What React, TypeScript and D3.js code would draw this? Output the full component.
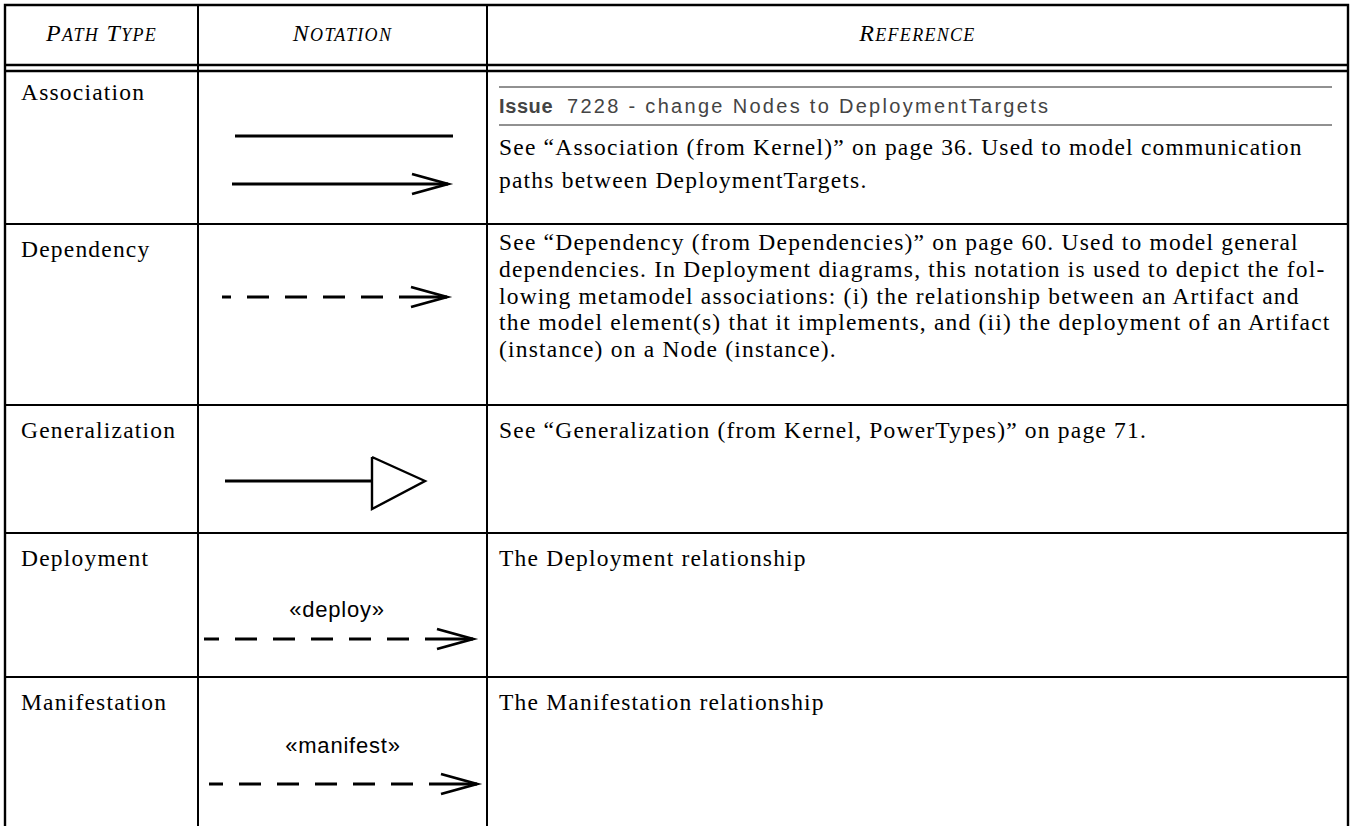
import React, { useRef, useEffect } from 'react';
import * as d3 from 'd3';

// table content
const headers = ['Path Type', 'Notation', 'Reference'];
const pathTypes = ['Association', 'Dependency', 'Generalization', 'Deployment', 'Manifestation'];
const notationKinds = ['association', 'dependency', 'generalization', 'deployment', 'manifestation'];
const stereotypes = ['', '', '', '«deploy»', '«manifest»'];
const issueLabel = 'Issue';
const issueText = '7228 - change Nodes to DeploymentTargets';
const associationRef = [
  'See “Association (from Kernel)” on page 36. Used to model communication',
  'paths between DeploymentTargets.',
];
const dependencyRef = [
  'See “Dependency (from Dependencies)” on page 60. Used to model general',
  'dependencies. In Deployment diagrams, this notation is used to depict the fol-',
  'lowing metamodel associations: (i) the relationship between an Artifact and',
  'the model element(s) that it implements, and (ii) the deployment of an Artifact',
  '(instance) on a Node (instance).',
];
const generalizationRef = ['See “Generalization (from Kernel, PowerTypes)” on page 71.'];
const deploymentRef = ['The Deployment relationship'];
const manifestationRef = ['The Manifestation relationship'];
const referenceLines = [associationRef, dependencyRef, generalizationRef, deploymentRef, manifestationRef];

// layout
const W = 1353;
const H = 826;
const colEdges = [5, 198, 487, 1348];
const rowEdges = [71, 224, 405, 533, 677, 840];
const SERIF = '"Liberation Serif", "Times New Roman", serif';
const SANS = '"Liberation Sans", Arial, sans-serif';
const BODY_SIZE = 23.5;
const BODY_SPACING = 1.2;

const App = () => {
  const ref = useRef(null);

  useEffect(() => {
    const svg = d3.select(ref.current);
    svg.selectAll('*').remove();

    const rowTop = d3.scaleOrdinal().domain(pathTypes).range(rowEdges.slice(0, -1));
    const colMid = (i) => (colEdges[i] + colEdges[i + 1]) / 2;

    const grid = svg.append('g').attr('stroke', '#000').attr('fill', 'none');
    // outer border (open at the bottom, table continues on next page)
    grid
      .append('path')
      .attr('d', `M${colEdges[0]},${H + 5}V5H${colEdges[3]}V${H + 5}`)
      .attr('stroke-width', 2.4);
    // header double rule
    [65, 71].forEach((y) =>
      grid.append('line').attr('x1', colEdges[0]).attr('x2', colEdges[3]).attr('y1', y).attr('y2', y).attr('stroke-width', 2.4)
    );
    // column rules
    [colEdges[1], colEdges[2]].forEach((x) =>
      grid.append('line').attr('x1', x).attr('x2', x).attr('y1', 5).attr('y2', H + 5).attr('stroke-width', 2)
    );
    // row rules
    rowEdges.slice(1, -1).forEach((y) =>
      grid.append('line').attr('x1', colEdges[0]).attr('x2', colEdges[3]).attr('y1', y).attr('y2', y).attr('stroke-width', 2)
    );

    // headers in italic small caps
    headers.forEach((h, i) => {
      const t = svg
        .append('text')
        .attr('x', colMid(i))
        .attr('y', 41)
        .attr('text-anchor', 'middle')
        .attr('font-family', SERIF)
        .attr('font-style', 'italic')
        .attr('letter-spacing', 1.3)
        .attr('fill', '#000');
      h.split(' ').forEach((word, wi) => {
        t.append('tspan').attr('font-size', 24).text((wi > 0 ? ' ' : '') + word[0]);
        t.append('tspan').attr('font-size', 18).text(word.slice(1).toUpperCase());
      });
    });

    // path type labels
    svg
      .selectAll('text.label')
      .data(pathTypes)
      .enter()
      .append('text')
      .attr('class', 'label')
      .attr('x', colEdges[0] + 16)
      .attr('y', (d, i) => rowTop(d) + (i === 0 ? 29 : 33))
      .attr('font-family', SERIF)
      .attr('font-size', BODY_SIZE)
      .attr('letter-spacing', BODY_SPACING)
      .text((d) => d);

    // reference texts
    const refX = colEdges[2] + 12;
    const firstBaseline = [155, 250, 438, 566, 710];
    const lineStep = [33, 26.75, 27, 27, 27];
    referenceLines.forEach((lines, i) => {
      lines.forEach((line, li) => {
        svg
          .append('text')
          .attr('x', refX)
          .attr('y', firstBaseline[i] + li * lineStep[i])
          .attr('font-family', SERIF)
          .attr('font-size', BODY_SIZE)
          .attr('letter-spacing', BODY_SPACING)
          .text(line);
      });
    });

    // issue box in the association row
    const issueRight = 1332;
    [87, 125].forEach((y) =>
      svg.append('line').attr('x1', refX).attr('x2', issueRight).attr('y1', y).attr('y2', y).attr('stroke', '#222').attr('stroke-width', 1)
    );
    svg
      .append('text')
      .attr('x', refX)
      .attr('y', 113)
      .attr('font-family', SANS)
      .attr('font-size', 20)
      .attr('font-weight', 'bold')
      .attr('fill', '#444')
      .attr('letter-spacing', 0.6)
      .text(issueLabel);
    svg
      .append('text')
      .attr('x', refX + 68)
      .attr('y', 113)
      .attr('font-family', SANS)
      .attr('font-size', 20)
      .attr('fill', '#444')
      .attr('letter-spacing', 2.3)
      .text(issueText);

    // notation glyphs
    const line = d3.line();
    const notes = svg.append('g').attr('stroke', '#000').attr('fill', 'none').attr('stroke-width', 2.8);
    const openHead = (tip, y) =>
      notes.append('path').attr('d', line([[tip - 36, y - 10], [tip, y], [tip - 36, y + 10]]));
    const dashed = (x0, tip, y) => {
      // solid tail next to the head, then regular dashes back to the start
      notes.append('path').attr('d', line([[tip - 48, y], [tip, y]]));
      notes
        .append('path')
        .attr('d', line([[tip - 64, y], [x0, y]]))
        .attr('stroke-dasharray', '22 16');
      openHead(tip, y);
    };

    notationKinds.forEach((kind, i) => {
      const top = rowTop(pathTypes[i]);
      if (kind === 'association') {
        notes.append('path').attr('d', line([[235, top + 65], [453, top + 65]]));
        notes.append('path').attr('d', line([[232, top + 113], [448, top + 113]]));
        openHead(448, top + 113);
      } else if (kind === 'dependency') {
        dashed(222, 447, top + 73);
      } else if (kind === 'generalization') {
        const y = top + 76;
        notes.append('path').attr('d', line([[225, y], [372, y]]));
        notes
          .append('path')
          .attr('d', line([[372, y - 24], [425, y], [372, y + 28], [372, y - 24]]))
          .attr('fill', '#fff')
          .attr('stroke-width', 2.4);
      } else if (kind === 'deployment') {
        dashed(204, 473, top + 106);
      } else if (kind === 'manifestation') {
        dashed(209, 477, top + 107);
      }
      if (stereotypes[i]) {
        svg
          .append('text')
          .attr('x', kind === 'deployment' ? 337 : 343)
          .attr('y', top + (kind === 'deployment' ? 84 : 76))
          .attr('text-anchor', 'middle')
          .attr('font-family', SANS)
          .attr('font-size', 22)
          .attr('letter-spacing', 0.8)
          .text(stereotypes[i]);
      }
    });
  }, []);

  return (
    <svg
      ref={ref}
      width={W}
      height={H}
      style={{ position: 'absolute', left: 0, top: 0, background: '#fff' }}
    />
  );
};

export default App;
